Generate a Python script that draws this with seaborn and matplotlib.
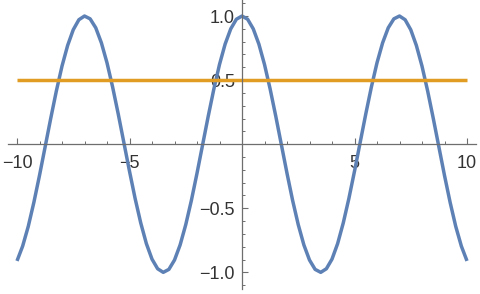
import matplotlib
matplotlib.use("Agg")
import matplotlib.pyplot as plt
import seaborn as sns
import pandas as pd
from matplotlib.ticker import MultipleLocator, FixedLocator

sns.set_style("white")
plt.rcParams['font.family'] = ['Liberation Sans', 'DejaVu Sans']

# values (right half, mirrored for left half)
x_right = [0, 0.25, 0.5, 0.75, 1.0, 1.25, 1.5, 1.75, 2.0, 2.25, 2.5, 2.75, 3.0, 3.25,
           3.5, 3.75, 4.0, 4.25, 4.5, 4.75, 5.0, 5.25, 5.5, 5.75, 6.0, 6.25, 6.5, 6.75,
           7.0, 7.25, 7.5, 7.75, 8.0, 8.25, 8.5, 8.75, 9.0, 9.25, 9.5, 9.75, 10.0]
y_right = [1.000, 0.975, 0.900, 0.781, 0.622, 0.431, 0.219, -0.004, -0.227, -0.439,
           -0.628, -0.786, -0.904, -0.977, -1.000, -0.972, -0.897, -0.776, -0.615,
           -0.424, -0.211, 0.012, 0.235, 0.446, 0.635, 0.791, 0.908, 0.978, 1.000,
           0.971, 0.893, 0.770, 0.609, 0.416, 0.202, -0.021, -0.244, -0.454, -0.642,
           -0.796, -0.911]
h_level = 0.5
x_range = [-10, 10]
x_ticks = [-10, -5, 5, 10]
y_ticks = [-1.0, -0.5, 0.5, 1.0]

xs = [-v for v in x_right[:0:-1]] + x_right
ys = y_right[:0:-1] + y_right
df = pd.DataFrame({"x": xs, "y": ys})
dh = pd.DataFrame({"x": x_range, "y": [h_level, h_level]})

fig = plt.figure(figsize=(4.8, 2.94), dpi=100)
ax = fig.add_axes([8/480, 5/294, 468/480, 289/294])
sns.lineplot(data=df, x="x", y="y", ax=ax, color="#5E81B5", lw=2.5, sort=False,
             solid_joinstyle="round", solid_capstyle="butt")
sns.lineplot(data=dh, x="x", y="y", ax=ax, color="#E19C24", lw=2.5,
             solid_capstyle="butt")

ax.set_xlim(-10.4, 10.4)
ax.set_ylim(-1.13, 1.125)
ax.set_xlabel("")
ax.set_ylabel("")

for s in ["top", "right"]:
    ax.spines[s].set_visible(False)
ax.spines["left"].set_position(("data", 0))
ax.spines["bottom"].set_position(("data", 0))
for s in ["left", "bottom"]:
    ax.spines[s].set_color("#6e6e6e")
    ax.spines[s].set_linewidth(0.9)

ax.xaxis.set_major_locator(FixedLocator(x_ticks))
ax.yaxis.set_major_locator(FixedLocator(y_ticks))
ax.xaxis.set_minor_locator(MultipleLocator(1))
ax.yaxis.set_minor_locator(MultipleLocator(0.1))
ax.set_xticklabels(["\u221210", "\u22125", "5", "10"])
ax.set_yticklabels(["\u22121.0", "\u22120.5", "0.5", "1.0"])
ax.tick_params(axis="both", which="both", bottom=True, left=True)
ax.tick_params(axis="both", which="major", direction="in", length=4.5, width=0.8,
               color="#6e6e6e", labelsize=13, labelcolor="#333333")
ax.tick_params(axis="both", which="minor", direction="in", length=2.5, width=0.7,
               color="#6e6e6e")
ax.tick_params(axis="x", which="major", pad=8)
ax.tick_params(axis="y", which="major", pad=5)
ax.patch.set_alpha(0)

fig.savefig("out.png", dpi=100)
